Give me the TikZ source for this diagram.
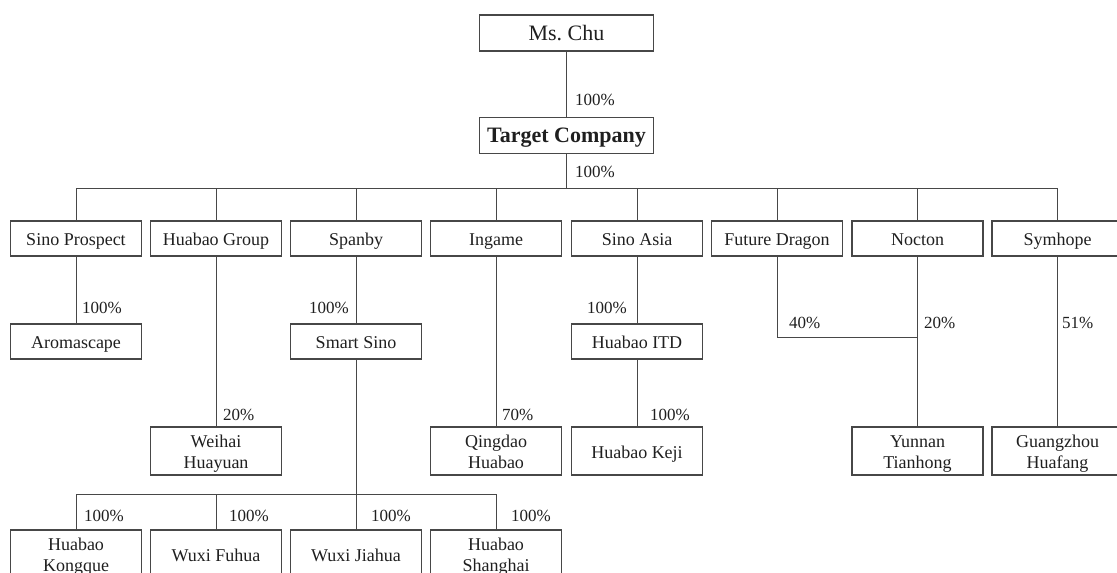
\documentclass[tikz,border=0pt]{standalone}
\usepackage{fontspec}
\setmainfont{Liberation Serif}
\newcommand{\chuStrut}{\rule[-5pt]{0pt}{24.5pt}}
\newcommand{\chuPair}[2]{\rule{0pt}{19pt}#1\\#2\rule[-4.5pt]{0pt}{4.5pt}}

\begin{document}
\begin{tikzpicture}[x=1pt,y=-1pt,
  frame/.style={draw=black!72, line width=1.1pt, inner sep=0pt, text=black!88, minimum width=131pt},
  entity/.style={frame, minimum height=35pt, font={\fontsize{18}{21}\selectfont}, execute at begin node={\chuStrut}},
  tallentity/.style={frame, minimum height=48pt, font={\fontsize{18}{21}\selectfont}, align=center},
  topentity/.style={entity, minimum width=174pt, minimum height=36pt, font={\fontsize{22}{24}\selectfont}},
  link/.style={draw=black!72, line width=1pt},
  pct/.style={font={\fontsize{17}{19}\selectfont}, text=black!88, inner sep=0pt}]
\useasboundingbox (0,0) rectangle (1117,573);
\clip (0,0) rectangle (1117,573);
\node[topentity] (chu) at (566.5,33) {Ms.\ Chu};
\node[topentity, font={\fontsize{22}{24}\selectfont\bfseries}] (target) at (566.5,135.5) {Target Company};
\node[entity] (sinoprospect) at (76,238.5) {Sino Prospect};
\node[entity] (huabaogroup) at (216,238.5) {Huabao Group};
\node[entity] (spanby) at (356,238.5) {Spanby};
\node[entity] (ingame) at (496,238.5) {Ingame};
\node[entity] (sinoasia) at (637,238.5) {Sino Asia};
\node[entity] (futuredragon) at (777,238.5) {Future Dragon};
\node[entity] (nocton) at (917.5,238.5) {Nocton};
\node[entity] (symhope) at (1057.5,238.5) {Symhope};
\node[entity] (aromascape) at (76,341.5) {Aromascape};
\node[entity] (smartsino) at (356,341.5) {Smart Sino};
\node[entity] (huabaoitd) at (637,341.5) {Huabao ITD};
\node[tallentity] (weihai) at (216,451) {\chuPair{Weihai}{Huayuan}};
\node[tallentity] (qingdao) at (496,451) {\chuPair{Qingdao}{Huabao}};
\node[entity, minimum height=48pt] (huabaokeji) at (637,451) {Huabao Keji};
\node[tallentity] (yunnan) at (917.5,451) {\chuPair{Yunnan}{Tianhong}};
\node[tallentity] (guangzhou) at (1057.5,451) {\chuPair{Guangzhou}{Huafang}};
\node[tallentity] (kongque) at (76,554) {\chuPair{Huabao}{Kongque}};
\node[entity, minimum height=48pt] (fuhua) at (216,554) {Wuxi Fuhua};
\node[entity, minimum height=48pt] (jiahua) at (356,554) {Wuxi Jiahua};
\node[tallentity] (shanghai) at (496,554) {\chuPair{Huabao}{Shanghai}};
\coordinate (topbus) at (566.5,188.5);
\coordinate (lowbus) at (356,494);
\coordinate (dragonjoin) at (917.5,337);
\draw[link] (chu) -- (target);
\draw[link] (target) -- (topbus);
\draw[link] (topbus) -| (sinoprospect.north);
\draw[link] (topbus) -| (huabaogroup.north);
\draw[link] (topbus) -| (spanby.north);
\draw[link] (topbus) -| (ingame.north);
\draw[link] (topbus) -| (sinoasia.north);
\draw[link] (topbus) -| (futuredragon.north);
\draw[link] (topbus) -| (nocton.north);
\draw[link] (topbus) -| (symhope.north);
\draw[link] (sinoprospect) -- (aromascape);
\draw[link] (huabaogroup) -- (weihai);
\draw[link] (spanby) -- (smartsino);
\draw[link] (ingame) -- (qingdao);
\draw[link] (sinoasia) -- (huabaoitd);
\draw[link] (huabaoitd) -- (huabaokeji);
\draw[link] (futuredragon.south) |- (dragonjoin);
\draw[link] (nocton) -- (yunnan);
\draw[link] (symhope) -- (guangzhou);
\draw[link] (smartsino) -- (jiahua);
\draw[link] (lowbus) -| (kongque.north);
\draw[link] (lowbus) -| (fuhua.north);
\draw[link] (lowbus) -| (shanghai.north);
\node[pct, anchor=west] (pchu) at (575,100) {100\%};
\node[pct, anchor=west] (ptarget) at (575,172) {100\%};
\node[pct, anchor=west] (paroma) at (82,308) {100\%};
\node[pct, anchor=east] (psmart) at (349,308) {100\%};
\node[pct, anchor=east] (pitd) at (627,308) {100\%};
\node[pct, anchor=west] (pdragon) at (789,323) {40\%};
\node[pct, anchor=west] (pnocton) at (924,323) {20\%};
\node[pct, anchor=west] (psymhope) at (1062,323) {51\%};
\node[pct, anchor=west] (pweihai) at (223,415) {20\%};
\node[pct, anchor=west] (pqingdao) at (502,415) {70\%};
\node[pct, anchor=west] (pkeji) at (650,415) {100\%};
\node[pct, anchor=west] (pkongque) at (84,516) {100\%};
\node[pct, anchor=west] (pfuhua) at (229,516) {100\%};
\node[pct, anchor=west] (pjiahua) at (371,516) {100\%};
\node[pct, anchor=west] (pshanghai) at (511,516) {100\%};
\end{tikzpicture}
\end{document}
